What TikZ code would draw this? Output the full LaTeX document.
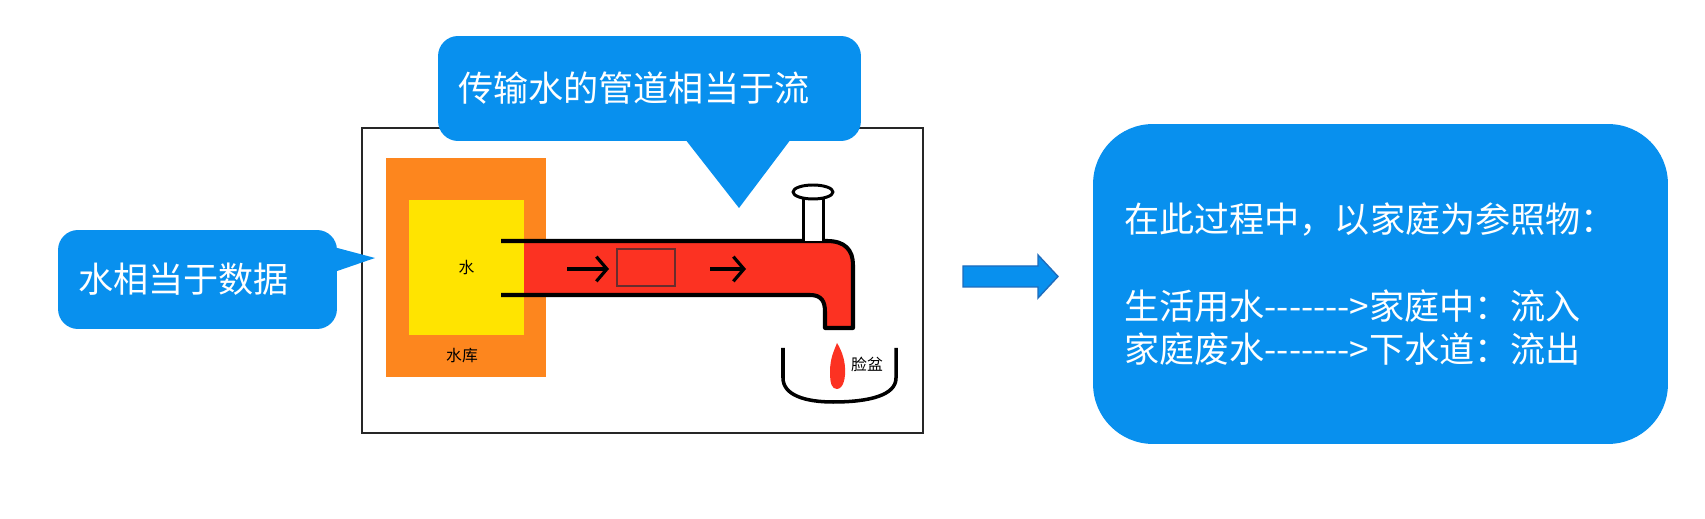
\documentclass[tikz,border=0pt]{standalone}
\usepackage{fontspec}
\setmainfont{Noto Sans CJK SC}
\usetikzlibrary{arrows.meta,calc}
\definecolor{bubble_blue}{RGB}{8,144,238}
\definecolor{arrow_edge}{RGB}{30,108,188}
\definecolor{tank_orange}{RGB}{253,134,30}
\definecolor{water_yellow}{RGB}{255,228,0}
\definecolor{pipe_red}{RGB}{252,50,34}
\definecolor{packet_edge}{RGB}{105,45,45}
\tikzstyle{bubble}=[rectangle,rounded corners=0.4cm,fill=bubble_blue,text=white,
  font=\fontsize{20}{24.7}\selectfont,align=left,inner ysep=0pt]
\tikzstyle{small}=[font=\fontsize{9}{10}\selectfont,inner sep=0pt]
\tikzstyle{pipeline}=[line width=2.3pt,line join=round]
\tikzstyle{flow}=[line width=1.8pt,-{Straight Barb[length=6pt,width=14pt]}]
\tikzstyle{outline}=[line width=1.7pt,line join=round]

\begin{document}
\begin{tikzpicture}[x=0.02cm,y=-0.02cm]
    \useasboundingbox (0,0) rectangle (1705,519);
    % frame round the water scene
    \draw[line width=0.9pt,black!85] (362,128) rectangle (923,433);
    \node [rectangle,fill=tank_orange,minimum width=3.2cm,minimum height=4.38cm] (tank) at (466,267.5) {};
    \node [style=small,rectangle,fill=water_yellow,minimum width=2.3cm,minimum height=2.7cm] (water) at (466.5,267.5) {水};
    \node [style=small] (tanklbl) at (462,356) {水库};
    % pipe and tap
    \fill[pipe_red] (524,241) -- (827,241) .. controls (845,241) and (853,250) .. (853,265)
        -- (853,328) -- (825,328) -- (825,312) .. controls (825,302) and (822,295) .. (810,295)
        -- (524,295) -- cycle;
    \draw[style=pipeline] (501,241) -- (827,241) .. controls (845,241) and (853,250) .. (853,265)
        -- (853,328) -- (825,328) -- (825,312) .. controls (825,302) and (822,295) .. (810,295)
        -- (501,295);
    \draw[style=outline,fill=white] (803,241) -- (803,198) -- (823,198) -- (823,241);
    \draw[style=outline,fill=white] (813,192) ellipse [x radius=0.4cm,y radius=0.14cm];
    \coordinate (f1s) at (567,269);
    \coordinate (f1e) at (609,269);
    \coordinate (f2s) at (710,269);
    \coordinate (f2e) at (746,269);
    \draw[style=flow] (f1s) -- (f1e);
    \draw[style=flow] (f2s) -- (f2e);
    \node [draw=packet_edge,line width=0.8pt,minimum width=1.16cm,minimum height=0.74cm] (packet) at (646,267.5) {};
    % basin
    \draw[style=outline,line width=2pt] (783,348) -- (783,378) .. controls (783,395) and (805,402) .. (833,402)
        .. controls (870,402) and (896,395) .. (896,378) -- (896,348);
    \fill[pipe_red] (837,343) .. controls (842,351) and (846,362) .. (845,375)
        .. controls (844,386) and (840,389) .. (837,389) .. controls (832,389) and (830,384) .. (830,372)
        .. controls (830,358) and (834,351) .. (837,343) -- cycle;
    \node [style=small] (basin) at (867,364) {脸盆};
    % speech bubbles
    \node [style=bubble,text width=4.78cm,inner xsep=0.4cm,minimum height=1.98cm] (lbub) at (197.5,279.5) {水相当于数据};
    \coordinate (ltip) at (375,258);
    \fill[bubble_blue] ($(lbub.north east)+(-5,17)$) -- (ltip) -- ($(lbub.north east)+(-5,43)$) -- cycle;
    \node [style=bubble,text width=7.66cm,inner xsep=0.4cm,minimum height=2.1cm] (tbub) at (649.5,88.5) {传输水的管道相当于流};
    \coordinate (ttip) at (739,208);
    \fill[bubble_blue] (685,139) -- (ttip) -- (791,139) -- cycle;
    % result
    \filldraw[fill=bubble_blue,draw=arrow_edge,line width=0.8pt] (963,266) -- (1038,266) -- (1038,255)
        -- (1058,276.5) -- (1038,298) -- (1038,287) -- (963,287) -- cycle;
    \node [style=bubble,rounded corners=1.2cm,text width=10.26cm,inner xsep=0.62cm,minimum height=6.4cm] (rbub) at (1380.5,284)
        {在此过程中，以家庭为参照物：\\[24.7pt]
         生活用水-{}-{}-{}-{}-{}-{}->家庭中：流入\\
         家庭废水-{}-{}-{}-{}-{}-{}->下水道：流出};
\end{tikzpicture}
\end{document}
